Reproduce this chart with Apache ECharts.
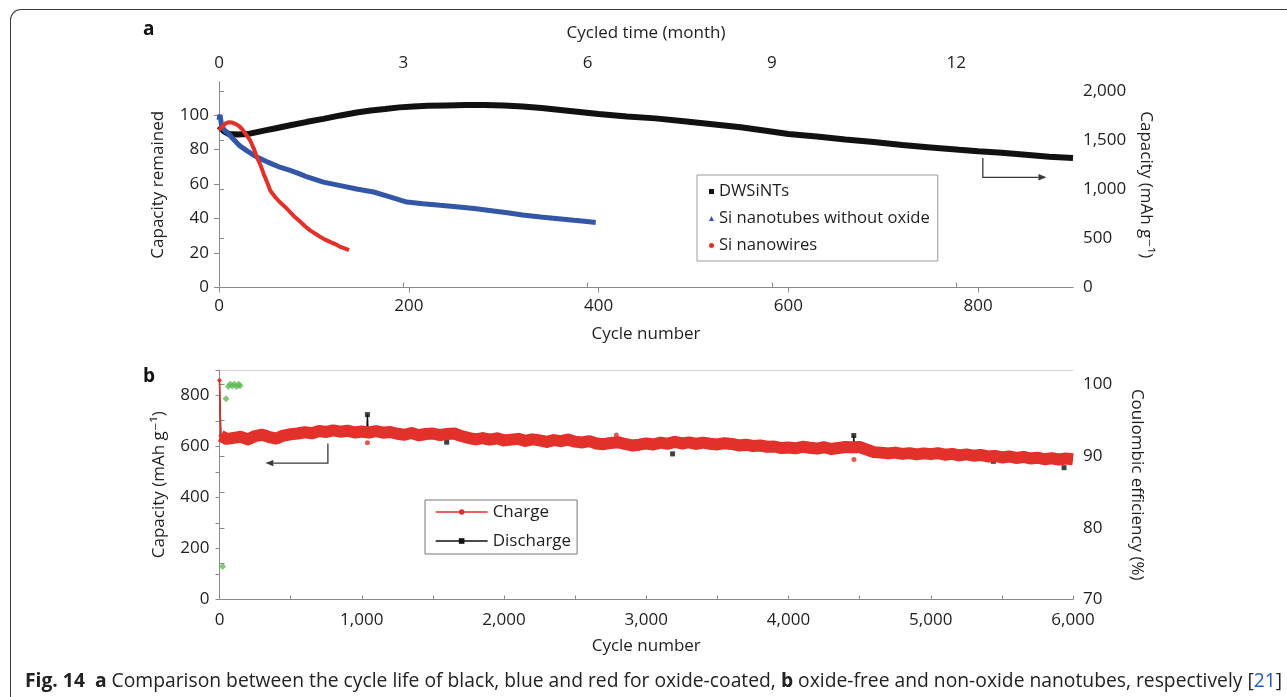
<!DOCTYPE html>
<html><head><meta charset="utf-8">
<script src="https://cdn.jsdelivr.net/npm/echarts@6/dist/echarts.min.js"></script>
<style>
html,body{margin:0;padding:0;background:#fff;overflow:hidden;}
#chart{position:absolute;left:0;top:0;width:1287px;height:697px;}
#frame{position:absolute;left:10px;top:9px;width:1300px;height:720px;border-top:1.5px solid #3a3a3a;border-left:1.5px solid #3a3a3a;border-top-left-radius:11px;}
#caption{position:absolute;left:25px;top:668px;font-family:'Open Sans',sans-serif;font-size:19.3px;line-height:24px;color:#222;white-space:nowrap;}
#caption b{font-weight:700;}
#caption .ref{color:#2a5db0;}
</style></head><body>
<div id="frame"></div>
<div id="chart"></div>
<div id="caption"><b>Fig. 14</b>&nbsp; <b>a</b> Comparison between the cycle life of black, blue and red for oxide-coated, <b>b</b> oxide-free and non-oxide nanotubes, respectively [<span class="ref">21</span>]</div>
<script>
// ---------- Panel a data ----------
const aCycleTicks = [0, 200, 400, 600, 800];
const aMonthTicks = [0, 3, 6, 9, 12];
const aRetentionTicks = [0, 20, 40, 60, 80, 100];
const aCapacityTicks = [0, 500, 1000, 1500, 2000];

const dwCycles = [0, 5, 10, 20, 30, 40, 50, 60, 75, 93, 110, 128, 145, 160, 175, 190, 205, 220, 240, 260, 280, 300, 320, 340, 360, 380, 400, 430, 460, 490, 520, 550, 580, 600, 630, 660, 690, 720, 750, 780, 800, 825, 850, 875, 900];
const dwCapacity = [1640, 1590, 1562, 1555, 1560, 1580, 1600, 1620, 1650, 1685, 1715, 1750, 1780, 1800, 1815, 1832, 1842, 1848, 1852, 1855, 1855, 1850, 1840, 1825, 1805, 1785, 1765, 1740, 1720, 1690, 1660, 1630, 1590, 1562, 1535, 1505, 1480, 1450, 1425, 1400, 1385, 1370, 1350, 1330, 1318];

const ntCycles = [0, 1, 3, 6, 10, 15, 22, 30, 40, 50, 57, 65, 75, 85, 93, 110, 128, 145, 163, 180, 198, 215, 233, 250, 269, 285, 304, 320, 339, 355, 374, 385, 397];
const ntRetention = [97, 100, 93, 91, 89, 86, 82, 79, 75.5, 73, 71.3, 69.5, 67.8, 65.8, 64, 61, 59, 57, 55.3, 52.5, 49.5, 48.5, 47.6, 46.8, 45.7, 44.6, 43.3, 42, 40.8, 40, 38.9, 38.3, 37.6];

const nwCycles = [0, 3, 7, 10, 14, 17, 21, 24, 28, 33, 37, 40, 44, 47, 51, 54, 59, 64, 70, 75, 80, 86, 91, 96, 102, 107, 112, 117, 123, 128, 133, 137];
const nwRetention = [91, 93, 95, 95.7, 95.5, 94.8, 93.5, 91.9, 89, 85, 80, 75.5, 70.5, 65.9, 60.5, 56.2, 52.5, 49.5, 46.5, 43.7, 40.8, 37.9, 35.3, 33.1, 31, 29.2, 27.7, 26.4, 25, 23.5, 22.5, 21.6];

// ---------- Panel b data ----------
const bCycleTicks = [0, 500, 1000, 1500, 2000, 2500, 3000, 3500, 4000, 4500, 5000, 5500, 6000];
const bCycleLabels = [0, 1000, 2000, 3000, 4000, 5000, 6000];
const bCapTicks = [0, 100, 200, 300, 400, 500, 600, 700, 800, 900];
const bCapLabels = [0, 200, 400, 600, 800];
const bCeTicks = [70, 75, 80, 85, 90, 95, 100];
const bCeLabels = [70, 80, 90, 100];

const chargeFirst = [[0,860],[8,642]];
const chargeData = [[8,642],[15,636],[50,630],[100,634],[150,638],[200,628],[250,641],[300,646],[350,637],[400,631],[450,643],[500,648],[550,651],[600,656],[650,652],[700,661],[750,657],[800,663],[850,658],[900,662],[950,655],[1000,659],[1050,655],[1100,660],[1150,654],[1200,657],[1250,650],[1300,646],[1350,653],[1400,644],[1450,649],[1500,651],[1550,645],[1600,649],[1650,651],[1700,641],[1750,634],[1800,628],[1850,633],[1900,627],[1950,632],[2000,624],[2050,627],[2100,630],[2150,622],[2200,628],[2250,624],[2300,618],[2350,625],[2400,621],[2450,627],[2500,619],[2550,616],[2600,621],[2650,612],[2700,609],[2750,614],[2800,617],[2850,610],[2900,604],[2950,607],[3000,612],[3050,608],[3100,615],[3150,611],[3200,618],[3250,612],[3300,616],[3350,610],[3400,615],[3450,611],[3500,608],[3550,613],[3600,610],[3650,604],[3700,607],[3750,602],[3800,604],[3850,599],[3900,600],[3950,594],[4000,596],[4050,593],[4100,599],[4150,595],[4200,592],[4250,597],[4300,590],[4350,594],[4400,598],[4450,597],[4500,598],[4550,588],[4600,578],[4650,576],[4700,573],[4750,576],[4800,571],[4850,574],[4900,569],[4950,573],[5000,570],[5050,574],[5100,568],[5150,571],[5200,565],[5250,569],[5300,564],[5350,567],[5400,561],[5450,563],[5500,557],[5550,561],[5600,555],[5650,559],[5700,553],[5750,556],[5800,550],[5850,554],[5900,549],[5950,553],[6000,550]];
const chargeOutliers = [[1040,615],[2790,645],[4460,549]];

const dischargeData = [[0,850],[10,640],[100,630],[200,626],[300,640],[400,628],[500,644],[600,652],[700,656],[800,658],[900,658],[1000,654],[1035,654],[1040,725],[1045,654],[1100,655],[1200,652],[1300,642],[1400,640],[1500,646],[1700,638],[1800,624],[1900,624],[2000,620],[2100,625],[2200,624],[2300,615],[2400,618],[2500,615],[2600,617],[2700,606],[2800,608],[2900,601],[3000,608],[3100,611],[3300,612],[3400,611],[3500,605],[3600,607],[3700,603],[3800,600],[3900,598],[4000,593],[4200,590],[4300,588],[4400,594],[4455,596],[4459,643],[4463,596],[4500,594],[4600,575],[4700,570],[4800,568],[4900,566],[5000,567],[5100,565],[5200,562],[5300,561],[5500,554],[5600,552],[5700,550],[5800,547],[6000,547]];
const dischargeOutliers = [[1040,725],[1597,617],[3185,571],[4069,589],[4459,643],[5440,542],[5937,517]];

const ceData = [[22,74.6],[46,98.0],[62,99.7],[75,100.0],[90,99.8],[105,100.0],[120,99.7],[135,100.0],[144,99.8]];

// ---------- chart ----------
const FONT = "'Open Sans', 'DejaVu Sans', sans-serif";
const TXT = '#1e1e1e';
const AX = '#8a8a8a';
const RED = '#e2302a';
const fmt = v => Number(v).toLocaleString('en-US');
const zip = (xs, ys) => xs.map((x, i) => [x, ys[i]]);

const chart = echarts.init(document.getElementById('chart'), null, {renderer: 'canvas'});

const axisCommon = {
  axisLine: {show: true, lineStyle: {color: AX, width: 1}},
  splitLine: {show: false},
  axisLabel: {color: TXT, fontSize: 17, fontFamily: FONT},
  nameTextStyle: {color: TXT, fontSize: 17, fontFamily: FONT},
};
function ax(o) { return echarts.util.merge(echarts.util.clone(axisCommon), o, true); }

const option = {
  animation: false,
  backgroundColor: 'transparent',
  textStyle: {fontFamily: FONT},
  grid: [
    {left: 219, right: 214, top: 82, height: 205.5},
    {left: 219.5, right: 214, top: 370, height: 229.5}
  ],
  xAxis: [
    ax({type: 'value', gridIndex: 0, position: 'bottom', min: 0, max: 900,
      name: 'Cycle number', nameLocation: 'middle', nameGap: 38,
      axisTick: {show: true, length: 5, inside: false, lineStyle: {color: AX}, customValues: aCycleTicks},
      axisLabel: {margin: 10, formatter: fmt, customValues: aCycleTicks}}),
    ax({type: 'value', gridIndex: 0, position: 'top', min: 0, max: 13.9,
      name: 'Cycled time (month)', nameLocation: 'middle', nameGap: 40,
      axisTick: {show: true, length: 5, lineStyle: {color: AX}, customValues: aMonthTicks},
      axisLabel: {margin: 10, customValues: aMonthTicks}}),
    ax({type: 'value', gridIndex: 1, position: 'bottom', min: 0, max: 6000,
      name: 'Cycle number', nameLocation: 'middle', nameGap: 38,
      axisTick: {show: true, length: 4, inside: true, lineStyle: {color: AX}, customValues: bCycleTicks},
      axisLabel: {margin: 12, formatter: fmt, customValues: bCycleLabels}}),
    ax({type: 'value', gridIndex: 1, position: 'top', min: 0, max: 6000,
      axisLine: {show: true, lineStyle: {color: '#d2d2d2', width: 1}},
      axisTick: {show: false}, axisLabel: {show: false}})
  ],
  yAxis: [
    ax({type: 'value', gridIndex: 0, position: 'left', min: 0, max: 119,
      name: 'Capacity remained', nameLocation: 'middle', nameGap: 52,
      axisTick: {show: true, length: 5, lineStyle: {color: AX}, customValues: aRetentionTicks},
      axisLabel: {margin: 10, customValues: aRetentionTicks}}),
    ax({type: 'value', gridIndex: 0, position: 'right', min: 0, max: 2090,
      name: 'Capacity (mAh g\u207B\u00B9)', nameLocation: 'middle', nameGap: 55, nameRotate: -90,
      axisTick: {show: true, length: 5, lineStyle: {color: AX}, customValues: aCapacityTicks},
      axisLabel: {margin: 10, formatter: fmt, customValues: aCapacityTicks}}),
    ax({type: 'value', gridIndex: 1, position: 'left', min: 0, max: 900,
      name: 'Capacity (mAh g\u207B\u00B9)', nameLocation: 'middle', nameGap: 52,
      axisTick: {show: true, length: 4, lineStyle: {color: AX}, customValues: bCapTicks},
      axisLabel: {margin: 10, customValues: bCapLabels}}),
    ax({type: 'value', gridIndex: 1, position: 'right', min: 70, max: 102,
      name: 'Coulombic efficiency (%)', nameLocation: 'middle', nameGap: 55, nameRotate: -90,
      axisTick: {show: true, length: 5, lineStyle: {color: AX}, customValues: bCeTicks},
      axisLabel: {margin: 10, customValues: bCeLabels}})
  ],
  legend: [
    {
      left: 697, top: 175, orient: 'vertical',
      data: [
        {name: 'DWSiNTs', icon: 'rect'},
        {name: 'Si nanotubes without oxide', icon: 'triangle'},
        {name: 'Si nanowires', icon: 'circle'}
      ],
      itemWidth: 5, itemHeight: 5, itemGap: 8,
      padding: [7, 8, 6, 12],
      borderColor: '#9a9a9a', borderWidth: 1,
      textStyle: {color: TXT, fontSize: 16.6, fontFamily: FONT, lineHeight: 19},
      selectedMode: false
    },
    {
      left: 425, top: 500, orient: 'vertical',
      data: ['Charge', 'Discharge'],
      itemWidth: 52, itemHeight: 7, itemGap: 9,
      padding: [2, 6, 3, 10],
      borderColor: '#777', borderWidth: 1,
      lineStyle: {width: 1.3},
      textStyle: {color: TXT, fontSize: 17, fontFamily: FONT, lineHeight: 20},
      selectedMode: false
    }
  ],
  series: [
    {name: 'DWSiNTs', type: 'line', xAxisIndex: 0, yAxisIndex: 1, data: zip(dwCycles, dwCapacity),
      symbol: 'rect', showSymbol: false, lineStyle: {color: '#111', width: 6}, itemStyle: {color: '#111'}, z: 3},
    {name: 'Si nanotubes without oxide', type: 'line', xAxisIndex: 0, yAxisIndex: 0, data: zip(ntCycles, ntRetention),
      symbol: 'triangle', showSymbol: false, lineStyle: {color: '#3357a6', width: 5}, itemStyle: {color: '#3357a6'}, z: 4},
    {name: 'Si nanowires', type: 'line', xAxisIndex: 0, yAxisIndex: 0, data: zip(nwCycles, nwRetention),
      symbol: 'circle', showSymbol: false, lineStyle: {color: RED, width: 4}, itemStyle: {color: RED}, z: 5},

    {name: 'Discharge', type: 'line', xAxisIndex: 2, yAxisIndex: 2, data: dischargeData,
      symbol: 'rect', showSymbol: false, lineStyle: {color: '#111', width: 1.3}, itemStyle: {color: '#111'}, z: 2},
    {name: 'Discharge', type: 'scatter', xAxisIndex: 2, yAxisIndex: 2, data: dischargeOutliers,
      symbol: 'rect', symbolSize: 5, itemStyle: {color: '#111'}, z: 2},
    {name: 'Charge', type: 'line', xAxisIndex: 2, yAxisIndex: 2, data: chargeData,
      symbol: 'circle', showSymbol: false, lineStyle: {color: RED, width: 12, join: 'round'}, itemStyle: {color: RED}, z: 3},
    {name: 'Charge', type: 'line', xAxisIndex: 2, yAxisIndex: 2, data: chargeFirst,
      symbol: 'circle', symbolSize: 4, showSymbol: true, lineStyle: {color: RED, width: 1.5}, itemStyle: {color: RED}, z: 3},
    {name: 'Charge', type: 'scatter', xAxisIndex: 2, yAxisIndex: 2, data: chargeOutliers,
      symbol: 'circle', symbolSize: 5, itemStyle: {color: RED}, z: 3},
    {name: 'Coulombic efficiency', type: 'scatter', xAxisIndex: 2, yAxisIndex: 3, data: ceData,
      symbol: 'diamond', symbolSize: 7, itemStyle: {color: '#5dbb52'}, z: 4}
  ]
};
chart.setOption(option);

// annotation arrows, placed through the axes
function px(xi, yi, p) { return chart.convertToPixel({xAxisIndex: xi, yAxisIndex: yi}, p); }
function arrow(pts, id) {
  const n = pts.length, a = pts[n - 2], b = pts[n - 1];
  const ang = Math.atan2(b[1] - a[1], b[0] - a[0]);
  const L = 8, W = 3.2;
  const base = [b[0] - L * Math.cos(ang), b[1] - L * Math.sin(ang)];
  const head = [b, [base[0] + W * Math.sin(ang), base[1] - W * Math.cos(ang)], [base[0] - W * Math.sin(ang), base[1] + W * Math.cos(ang)]];
  const line = pts.slice(0, n - 1).concat([base]);
  return [
    {type: 'polyline', id: id + 'l', shape: {points: line}, style: {stroke: '#3a3a3a', lineWidth: 1.3, fill: null}, z: 10},
    {type: 'polygon', id: id + 'h', shape: {points: head}, style: {fill: '#3a3a3a'}, z: 10}
  ];
}
const arrowA = [px(0, 1, [805, 1317]), px(0, 1, [805, 1121]), px(0, 1, [872, 1121])];
const arrowB = [px(2, 2, [762, 612]), px(2, 2, [762, 535]), px(2, 2, [323, 535])];
chart.setOption({
  graphic: [
    ...arrow(arrowA, 'aa'), ...arrow(arrowB, 'ab'),
    {type: 'text', left: 143, top: 20, style: {text: 'a', font: "bold 19px 'Open Sans', sans-serif", fill: '#111'}},
    {type: 'text', left: 143, top: 367, style: {text: 'b', font: "bold 19px 'Open Sans', sans-serif", fill: '#111'}}
  ]
});
</script>
</body></html>
